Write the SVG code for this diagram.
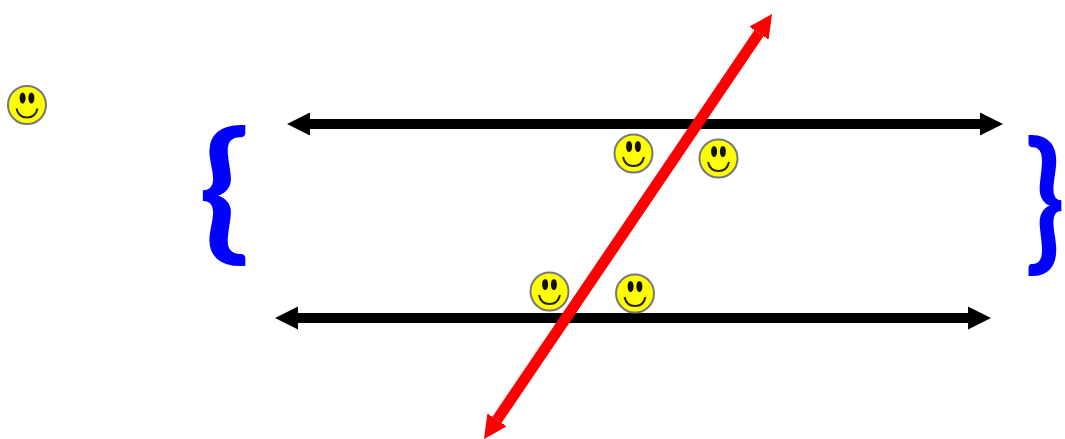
<svg xmlns="http://www.w3.org/2000/svg" width="1065" height="439" viewBox="0 0 1065 439">
<style>
.face{fill:#ffff00;stroke:#777;stroke-width:2}
.eye{fill:#111}
.smile{fill:none;stroke:#222;stroke-width:2}
.black{stroke:#000;stroke-width:10;fill:none}
.red{stroke:#f00;stroke-width:11;fill:none}
.brace{font-family:"Lato",sans-serif;font-weight:bold;font-size:155px;fill:#00f}
</style>
<defs>
<marker id="hb" markerUnits="userSpaceOnUse" markerWidth="25" markerHeight="26" refX="0" refY="13" orient="auto-start-reverse"><path d="M-1 1L23 13L-1 25L0 13Z" fill="#000"/></marker>
<marker id="hr" markerUnits="userSpaceOnUse" markerWidth="25" markerHeight="26" refX="0" refY="13" orient="auto-start-reverse"><path d="M-1 1L23 13L-1 25L0 13Z" fill="#f00"/></marker>
<g id="sm">
<circle class="face" r="19"/>
<ellipse class="eye" cx="-4.400" cy="-7" rx="3" ry="5.500"/>
<ellipse class="eye" cx="4.400" cy="-7" rx="3" ry="5.500"/>
<path class="smile" d="M-10.500 3.500Q-8.500 12.500 0 12.500Q8.500 12.500 10.500 3.500"/>
</g>
</defs>
<g id="connectors">
<line class="black" x1="310" y1="124" x2="980" y2="124" marker-start="url(#hb)" marker-end="url(#hb)"/>
<line class="black" x1="298" y1="318" x2="968" y2="318" marker-start="url(#hb)" marker-end="url(#hb)"/>
<line class="red" x1="759.100" y1="33" x2="496.900" y2="420" marker-start="url(#hr)" marker-end="url(#hr)"/>
</g>
<g id="smiley-1"><use href="#sm" x="27" y="105"/></g>
<g id="smiley-2"><use href="#sm" x="633.500" y="153.500"/></g>
<g id="smiley-3"><use href="#sm" x="718.500" y="158.500"/></g>
<g id="smiley-4"><use href="#sm" x="549.500" y="291.500"/></g>
<g id="smiley-5"><use href="#sm" x="635" y="293.500"/></g>
<g id="brace-left"><text class="brace" transform="translate(198 242.600) scale(1.1 0.98)">{</text></g>
<g id="brace-right"><text class="brace" transform="translate(1065 252.600) scale(0.85 0.98)" text-anchor="end">}</text></g>
</svg>
